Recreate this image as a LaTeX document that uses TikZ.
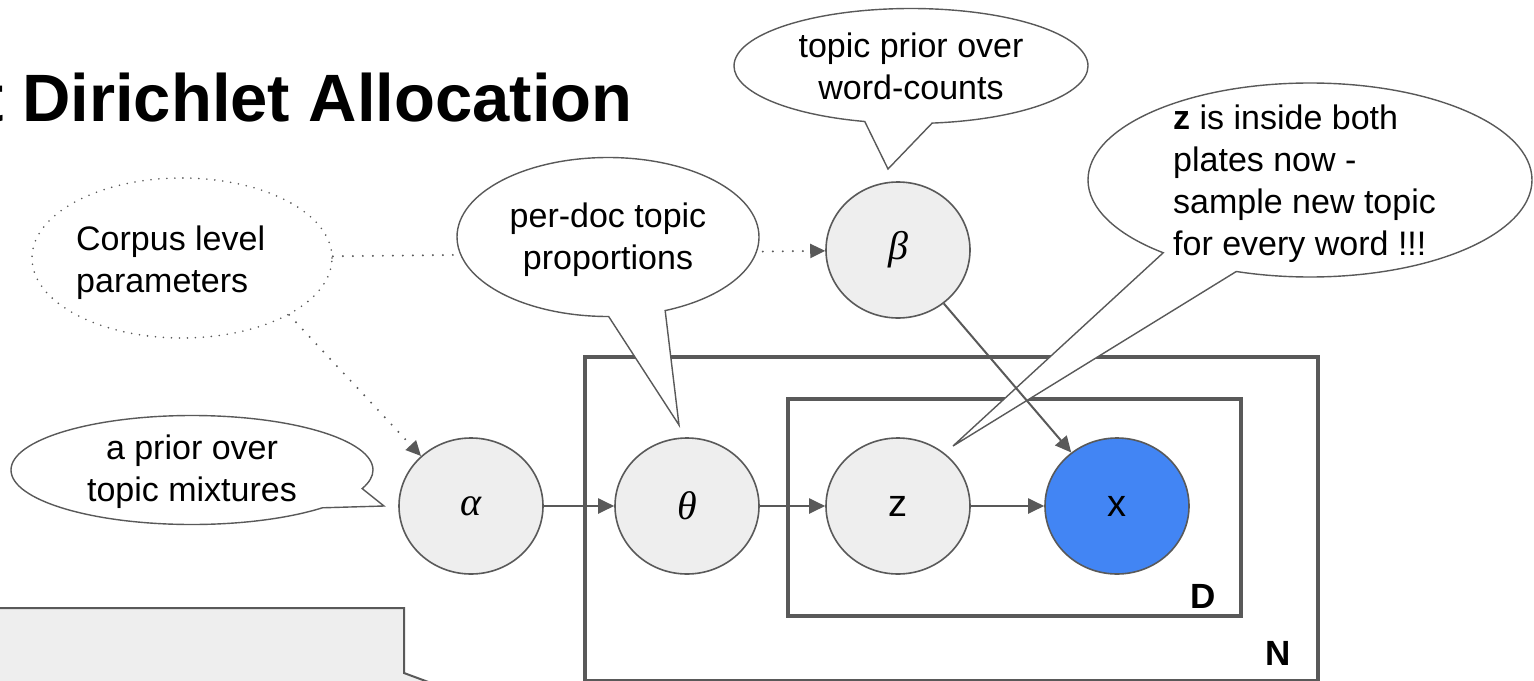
\documentclass[tikz,border=0pt]{standalone}
\usepackage{fontspec}
\setmainfont{Liberation Sans}
\newfontfamily\greekfont{Liberation Serif}
\usetikzlibrary{shapes.geometric,shapes.callouts,arrows.meta}
\definecolor{edgegray}{HTML}{595959}
\definecolor{nodefill}{HTML}{EEEEEE}
\definecolor{obsblue}{HTML}{4285F4}
\newcommand\tstrut{\rule{0pt}{26pt}}
\begin{document}
\begin{tikzpicture}[x=1pt,y=-1pt,
  txt/.style={font=\fontsize{34}{42}\selectfont, inner sep=0pt, text=black},
  var/.style={ellipse, draw=edgegray, line width=1.6pt, fill=nodefill, minimum width=144pt, minimum height=136pt, inner sep=0pt},
  greek/.style={var, font=\greekfont\itshape\fontsize{40}{44}\selectfont},
  latin/.style={var, font=\fontsize{38}{40}\selectfont},
  obs/.style={latin, fill=obsblue},
  arr/.style={draw=edgegray, line width=2pt, -{Triangle[length=16pt,width=15pt]}},
  dotarr/.style={draw=edgegray, line width=2.2pt, line cap=round, dash pattern=on 0pt off 10pt, -{Triangle[length=15pt,width=14pt]}},
  bubble/.style={ellipse callout, draw=edgegray, line width=1.4pt, fill=white, inner sep=0pt, callout pointer arc=22},
  plate/.style={draw=edgegray, line width=3.5pt, inner sep=0pt, anchor=north west},
  platelabel/.style={font=\fontsize{35}{40}\selectfont\bfseries, inner sep=0pt, anchor=base east}
]
\useasboundingbox (0,0) rectangle (1534,680);
\clip (0,0) rectangle (1534,680);

% title
\node[anchor=base east, inner sep=0pt, font=\fontsize{67}{70}\selectfont\bfseries] (title) at (633,121) {t Dirichlet Allocation};

% plates
\node[plate, minimum width=733pt, minimum height=324pt] (plateN) at (583,355) {};
\node[plate, minimum width=453pt, minimum height=217pt] (plateD) at (786,397) {};
\node[platelabel] (labD) at (1216,608) {D};
\node[platelabel] (labN) at (1291,665) {N};

% corpus level ellipse
\node[ellipse, draw=edgegray, line width=1.8pt, line cap=round, dash pattern=on 0pt off 8pt, minimum width=300pt, minimum height=160pt, inner sep=0pt] (corpus) at (182,258) {};
\node[txt, align=left, anchor=north west] (corpustext) at (76,224) {\tstrut Corpus level\\parameters};

% variables
\node[greek] (alpha) at (471,506) {α};
\node[greek] (theta) at (687,506) {θ};
\node[latin] (nz) at (898,506) {z};
\node[obs] (nx) at (1117,506) {x};
\node[greek] (beta) at (898,250) {β};

% dotted links
\draw[dotarr] (corpus) -- (beta);
\draw[dotarr] (corpus.-28) -- (alpha.135);

% bottom-left box
\draw[draw=edgegray, line width=2pt, fill=nodefill] (-10,608) -- (404,608) -- (404,673) -- (450,690) -- (-10,690) -- cycle;

% callouts
\node[bubble, minimum width=362pt, minimum height=109pt, callout absolute pointer={(384,506)}, callout pointer arc=24] (priorcall) at (192,470) {};
\node[txt, align=center, anchor=north] (priortext) at (192,433) {\tstrut a prior over\\topic mixtures};

\node[bubble, minimum width=302pt, minimum height=159pt, callout absolute pointer={(679,425)}] (doccall) at (608,237) {};
\node[txt, align=center, anchor=north] (doctext) at (608,201) {\tstrut per-doc topic\\proportions};

\node[bubble, minimum width=354pt, minimum height=115pt, callout absolute pointer={(888,169)}] (betacall) at (911,66) {};
\node[txt, align=center, anchor=north] (betatext) at (911,31) {\tstrut topic prior over\\word-counts};

\node[bubble, minimum width=444pt, minimum height=194pt, callout absolute pointer={(953,446)}] (zcall) at (1310,180) {};
\node[txt, align=left, anchor=north west] (ztext) at (1173,103) {\tstrut\textbf{z} is inside both\\plates now -\\sample new topic\\for every word !!!};

% arrows
\draw[arr] (alpha) -- (theta);
\draw[arr] (theta) -- (nz);
\draw[arr] (nz) -- (nx);
\draw[arr] (beta) -- (nx);
\end{tikzpicture}
\end{document}
